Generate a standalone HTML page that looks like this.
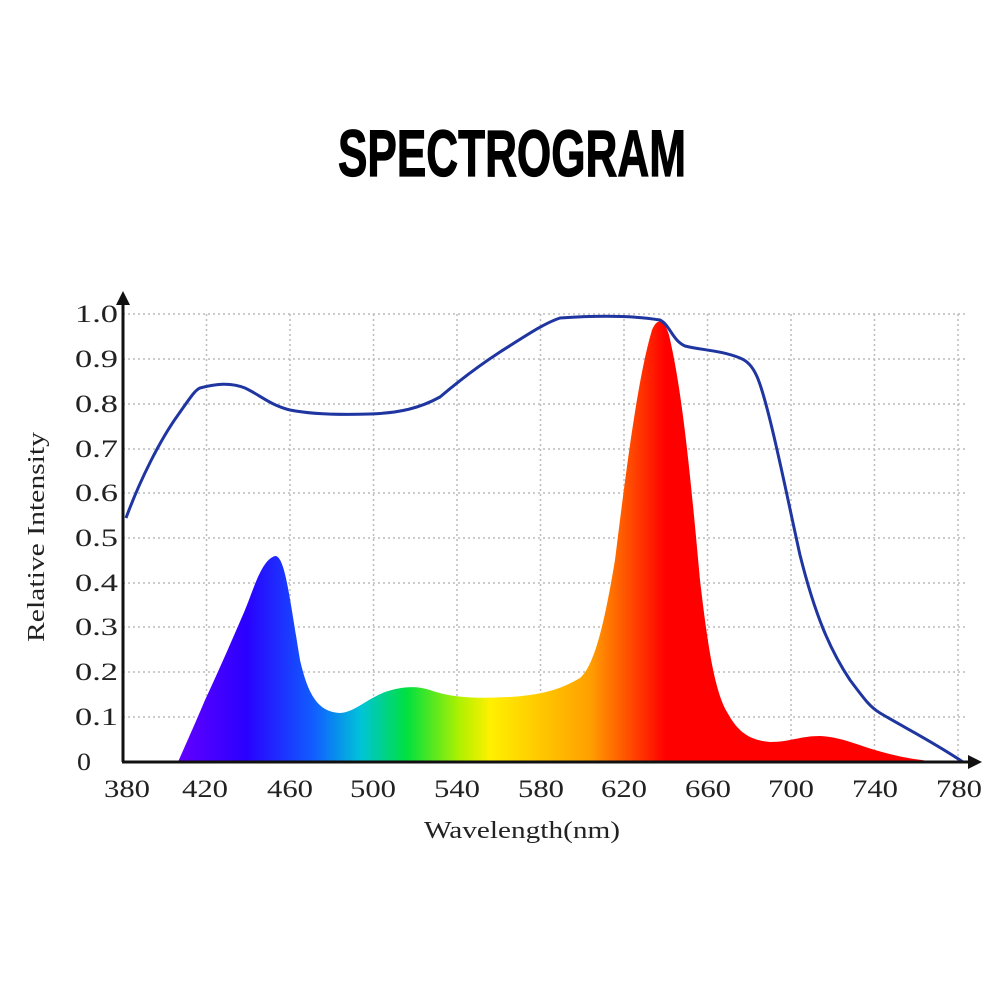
<!DOCTYPE html>
<html><head><meta charset="utf-8"><style>html,body{margin:0;padding:0;background:#fff}</style></head>
<body>
<svg width="1001" height="1001" viewBox="0 0 1001 1001" xmlns="http://www.w3.org/2000/svg">
<defs>
<linearGradient id="sp" gradientUnits="userSpaceOnUse" x1="178" y1="0" x2="940" y2="0">
<stop offset="0" stop-color="#6400ff"/>
<stop offset="0.09" stop-color="#2a00ff"/>
<stop offset="0.18" stop-color="#1060ff"/>
<stop offset="0.24" stop-color="#00c4d8"/>
<stop offset="0.30" stop-color="#00e040"/>
<stop offset="0.37" stop-color="#b0f000"/>
<stop offset="0.41" stop-color="#fff000"/>
<stop offset="0.54" stop-color="#ffa000"/>
<stop offset="0.60" stop-color="#ff4000"/>
<stop offset="0.64" stop-color="#ff0000"/>
<stop offset="1" stop-color="#ff0000"/>
</linearGradient>
</defs>
<text x="512" y="176" text-anchor="middle" font-family="'Liberation Sans Narrow','Liberation Sans',sans-serif" font-weight="bold" font-size="66" textLength="348" lengthAdjust="spacingAndGlyphs" fill="#000" stroke="#000" stroke-width="1.2">SPECTROGRAM</text>
<g stroke="#bbb" stroke-width="1.5" stroke-dasharray="2,3">
<line x1="123" y1="717" x2="965" y2="717"/><line x1="123" y1="672" x2="965" y2="672"/>
<line x1="123" y1="627" x2="965" y2="627"/><line x1="123" y1="583" x2="965" y2="583"/>
<line x1="123" y1="538" x2="965" y2="538"/><line x1="123" y1="493" x2="965" y2="493"/>
<line x1="123" y1="449" x2="965" y2="449"/><line x1="123" y1="404" x2="965" y2="404"/>
<line x1="123" y1="359" x2="965" y2="359"/><line x1="123" y1="314" x2="965" y2="314"/>
<line x1="206.5" y1="314" x2="206.5" y2="762"/><line x1="290" y1="314" x2="290" y2="762"/>
<line x1="373.5" y1="314" x2="373.5" y2="762"/><line x1="457" y1="314" x2="457" y2="762"/>
<line x1="540.5" y1="314" x2="540.5" y2="762"/><line x1="624" y1="314" x2="624" y2="762"/>
<line x1="707.5" y1="314" x2="707.5" y2="762"/><line x1="791" y1="314" x2="791" y2="762"/>
<line x1="874.5" y1="314" x2="874.5" y2="762"/><line x1="958" y1="314" x2="958" y2="762"/>
</g>
<path fill="url(#sp)" d="M178,762 C190,735 200,712 205,700 C220,668 232,640 245,610 C255,585 262,560 275,556 C285,555 290,600 300,660 C308,695 318,712 340,713 C355,712 365,700 385,692 C400,687 415,685 430,690 C450,697 470,699 510,697 C540,695 560,690 580,678 C595,665 605,620 615,560 C625,480 637,380 652,330 C657,318 664,318 669,335 C682,390 690,470 700,580 C707,640 714,690 727,712 C737,730 747,740 770,742 C790,742 800,736 820,736 C840,737 855,744 875,750 C895,756 915,760 940,762 Z"/>
<path fill="none" stroke="#1f35a0" stroke-width="3" d="M126,518 C140,480 160,440 178,415 C190,398 195,390 200,388 C215,384 230,382 245,388 C260,395 270,405 290,410 C310,414 340,415 370,414 C400,413 420,408 440,397 C460,380 480,365 500,352 C530,333 545,323 560,318 C590,316 630,315 660,320 C670,325 672,340 685,346 C700,350 720,350 740,358 C755,364 760,380 770,420 C780,460 790,510 800,555 C815,615 830,650 850,680 C865,700 870,707 880,713 C905,728 930,740 963,762"/>
<g stroke="#111" stroke-width="3" fill="none"><line x1="123" y1="300" x2="123" y2="762"/><line x1="122" y1="762" x2="970" y2="762"/></g>
<polygon points="123,291 116,305 130,305" fill="#111"/>
<polygon points="982,762 968,755 968,769" fill="#111"/>
<g font-family="'Liberation Serif',serif" font-size="25" fill="#222">
<text x="77" y="770" textLength="14" lengthAdjust="spacingAndGlyphs">0</text>
<text x="75" y="725" textLength="43" lengthAdjust="spacingAndGlyphs">0.1</text>
<text x="75" y="680" textLength="43" lengthAdjust="spacingAndGlyphs">0.2</text>
<text x="75" y="635" textLength="43" lengthAdjust="spacingAndGlyphs">0.3</text>
<text x="75" y="591" textLength="43" lengthAdjust="spacingAndGlyphs">0.4</text>
<text x="75" y="546" textLength="43" lengthAdjust="spacingAndGlyphs">0.5</text>
<text x="75" y="501" textLength="43" lengthAdjust="spacingAndGlyphs">0.6</text>
<text x="75" y="457" textLength="43" lengthAdjust="spacingAndGlyphs">0.7</text>
<text x="75" y="412" textLength="43" lengthAdjust="spacingAndGlyphs">0.8</text>
<text x="75" y="367" textLength="43" lengthAdjust="spacingAndGlyphs">0.9</text>
<text x="75" y="322" textLength="43" lengthAdjust="spacingAndGlyphs">1.0</text>
</g>
<g font-family="'Liberation Serif',serif" font-size="25" fill="#222" text-anchor="middle">
<text x="127" y="797" textLength="46" lengthAdjust="spacingAndGlyphs">380</text>
<text x="205" y="797" textLength="46" lengthAdjust="spacingAndGlyphs">420</text>
<text x="290" y="797" textLength="46" lengthAdjust="spacingAndGlyphs">460</text>
<text x="373" y="797" textLength="46" lengthAdjust="spacingAndGlyphs">500</text>
<text x="457" y="797" textLength="46" lengthAdjust="spacingAndGlyphs">540</text>
<text x="541" y="797" textLength="46" lengthAdjust="spacingAndGlyphs">580</text>
<text x="624" y="797" textLength="46" lengthAdjust="spacingAndGlyphs">620</text>
<text x="708" y="797" textLength="46" lengthAdjust="spacingAndGlyphs">660</text>
<text x="791" y="797" textLength="46" lengthAdjust="spacingAndGlyphs">700</text>
<text x="875" y="797" textLength="46" lengthAdjust="spacingAndGlyphs">740</text>
<text x="959" y="797" textLength="46" lengthAdjust="spacingAndGlyphs">780</text>
<text x="522" y="838" font-size="24" textLength="196" lengthAdjust="spacingAndGlyphs">Wavelength(nm)</text>
<text transform="translate(44,537) rotate(-90)" font-size="24" textLength="210" lengthAdjust="spacingAndGlyphs">Relative Intensity</text>
</g>
</svg>
</body></html>
